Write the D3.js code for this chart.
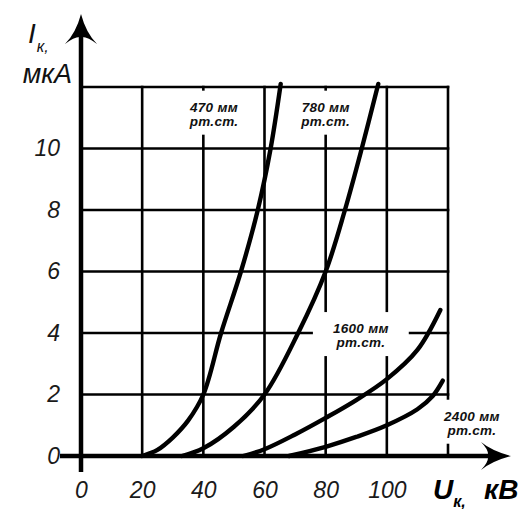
<!DOCTYPE html>
<html lang="ru">
<head>
<meta charset="utf-8"/>
<title>Вольт-амперные характеристики</title>
<script src="https://d3js.org/d3.v7.min.js"></script>
<style>
  body { margin: 0; background: #fff; }
  svg { display: block; font-family: "Liberation Sans", Arial, sans-serif; }
  .grid line { stroke: #000; stroke-width: 2.6px; }
  .tick-label { font-style: italic; font-size: 23px; fill: #1a1a1a; }
  .curve { fill: none; stroke: #000; stroke-width: 4.4px; stroke-linecap: round; }
  .note { font-weight: bold; font-style: italic; font-size: 13.5px; fill: #111; letter-spacing: 0.3px; }
</style>
</head>
<body>
<div id="chart"></div>
<script>
// ticks
var xTicks = [0, 20, 40, 60, 80, 100];
var yTicks = [0, 2, 4, 6, 8, 10];
var xGrid = [20, 40, 60, 80, 100, 120];
var yGrid = [2, 4, 6, 8, 10, 12];

// curves, pressure in мм рт.ст.
var pressures = ["470", "780", "1600", "2400"];
var u470  = [20, 25, 30, 35, 40, 45.8, 52.3, 57.8, 62, 65.3];
var i470  = [0, 0.2, 0.6, 1.15, 2, 4, 6, 8, 10, 12.1];
var u780  = [33, 40, 50, 60, 71, 80, 86.3, 91.8, 97.2];
var i780  = [0, 0.25, 0.95, 2, 4, 6, 8, 10, 12.1];
var u1600 = [53, 60, 70, 80, 90, 100, 110, 117.5];
var i1600 = [0, 0.22, 0.7, 1.24, 1.82, 2.5, 3.45, 4.75];
var u2400 = [68, 80, 90, 100, 110, 115, 118.3];
var i2400 = [0, 0.3, 0.62, 1.0, 1.52, 1.95, 2.45];

// label anchors (data units)
var labelU = [43.5, 80, 91.5, 127.8];
var labelI = [11.1, 11.1, 3.9, 1.05];

var series = [[u470, i470], [u780, i780], [u1600, i1600], [u2400, i2400]];

var width = 532, height = 509;

var x = d3.scaleLinear().domain([0, 120]).range([81, 448]);
var y = d3.scaleLinear().domain([0, 12]).range([456, 87]);

var svg = d3.select("#chart").append("svg")
    .attr("width", width)
    .attr("height", height);

// grid
var grid = svg.append("g").attr("class", "grid");
grid.selectAll("line.v")
  .data(xGrid)
  .enter().append("line")
    .attr("class", "v")
    .attr("x1", function(d) { return x(d); })
    .attr("x2", function(d) { return x(d); })
    .attr("y1", y(0))
    .attr("y2", y(12) - 1.3);
grid.selectAll("line.h")
  .data(yGrid)
  .enter().append("line")
    .attr("class", "h")
    .attr("x1", x(0))
    .attr("x2", x(120) + 1.3)
    .attr("y1", function(d) { return y(d); })
    .attr("y2", function(d) { return y(d); });

// label boxes knock out the grid
var notes = svg.append("g");
var noteG = notes.selectAll("g")
  .data(pressures)
  .enter().append("g")
    .attr("transform", function(d, i) { return "translate(" + x(labelU[i]) + "," + y(labelI[i]) + ")"; });

noteG.append("rect")
    .attr("fill", "#fff");

noteG.append("text")
    .attr("class", "note")
    .attr("text-anchor", "middle")
    .attr("y", -3)
    .text(function(d) { return d + " мм"; });
noteG.append("text")
    .attr("class", "note")
    .attr("text-anchor", "middle")
    .attr("y", 11)
    .text("рт.ст.");

noteG.each(function() {
  var g = d3.select(this);
  var bb = g.select("text").node().getBBox();
  g.select("rect")
    .attr("x", bb.x - 20)
    .attr("width", bb.width + 40)
    .attr("y", -24)
    .attr("height", 44);
});

// curves
var line = d3.line()
    .x(function(d) { return x(d[0]); })
    .y(function(d) { return y(d[1]); })
    .curve(d3.curveCatmullRom.alpha(0.5));

svg.append("g").selectAll("path")
  .data(series)
  .enter().append("path")
    .attr("class", "curve")
    .attr("d", function(s) { return line(d3.zip(s[0], s[1])); });

// axes
svg.append("line")
    .attr("x1", x(0)).attr("x2", x(0))
    .attr("y1", y(0) + 16).attr("y2", 32)
    .attr("stroke", "#000").attr("stroke-width", 4.5);
svg.append("line")
    .attr("x1", x(0) - 21).attr("x2", 492)
    .attr("y1", y(0)).attr("y2", y(0))
    .attr("stroke", "#000").attr("stroke-width", 4.5);

var ax = x(0), ay = y(0);
svg.append("path")
    .attr("d", "M" + ax + ",14 Q" + (ax + 5) + ",33 " + (ax + 16) + ",44 Q" + (ax + 6) + ",36 " + ax + ",37 Q" + (ax - 6) + ",36 " + (ax - 16) + ",44 Q" + (ax - 5) + ",33 " + ax + ",14Z")
    .attr("fill", "#000");
svg.append("path")
    .attr("d", "M511," + ay + " Q492," + (ay - 5) + " 481," + (ay - 14) + " Q489," + (ay - 6) + " 488," + ay + " Q489," + (ay + 6) + " 481," + (ay + 14) + " Q492," + (ay + 5) + " 511," + ay + "Z")
    .attr("fill", "#000");

// tick labels
var yAxis = svg.append("g")
    .attr("transform", "translate(" + x(0) + ",0)")
    .call(d3.axisLeft(y).tickValues(yTicks).tickSize(0).tickPadding(21));
yAxis.select(".domain").remove();
yAxis.selectAll("text").attr("class", "tick-label").attr("font-size", null).attr("font-family", null).attr("fill", null);

var xAxis = svg.append("g")
    .attr("transform", "translate(0," + y(0) + ")")
    .call(d3.axisBottom(x).tickValues(xTicks).tickSize(0).tickPadding(26));
xAxis.select(".domain").remove();
xAxis.selectAll("text").attr("class", "tick-label").attr("font-size", null).attr("font-family", null).attr("fill", null);

// axis titles
var yt = svg.append("text")
    .attr("x", 28).attr("y", 43)
    .attr("font-style", "italic").attr("font-size", 28).attr("fill", "#111");
yt.append("tspan").text("I");
yt.append("tspan").attr("font-size", 16).attr("dy", 9).attr("dx", 1).text("к,");

svg.append("text")
    .attr("x", 72).attr("y", 83)
    .attr("text-anchor", "end")
    .attr("font-style", "italic").attr("font-size", 27).attr("fill", "#111")
    .text("мкА");

var xt = svg.append("text")
    .attr("x", 433).attr("y", 499)
    .attr("font-style", "italic").attr("font-weight", "bold").attr("font-size", 28).attr("fill", "#000");
xt.append("tspan").text("U");
xt.append("tspan").attr("font-size", 16).attr("dy", 8).text("к,");
xt.append("tspan").attr("x", 484).attr("y", 499).text("кВ");
</script>
</body>
</html>
